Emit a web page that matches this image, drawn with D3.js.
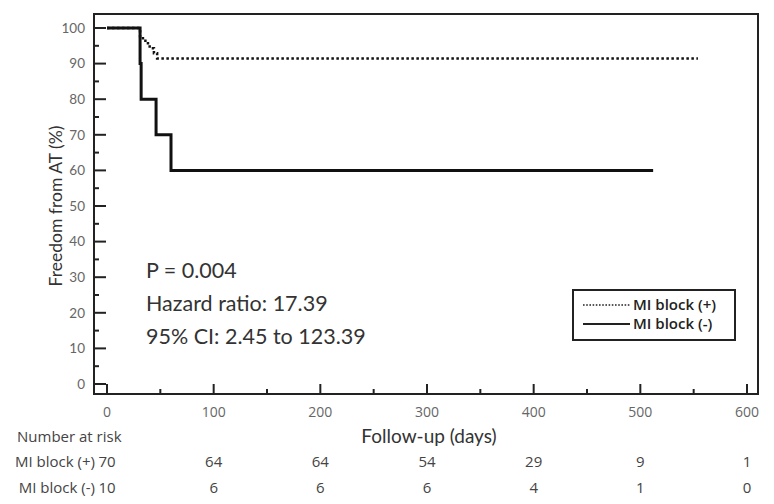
<!DOCTYPE html>
<html><head><meta charset="utf-8">
<script src="https://cdn.jsdelivr.net/npm/d3@7"></script>
<style>body{margin:0;background:#fff}svg{display:block}</style>
</head><body>
<svg id="c" width="774" height="504"></svg>
<script>
// Data
const timePlus = [0, 31, 36, 40, 44, 47, 554];
const survPlus = [100, 97.1, 95.7, 94.3, 92.9, 91.4, 91.4];
const timeMinus = [0, 31, 32, 46, 60, 512];
const survMinus = [100, 90, 80, 70, 60, 60];
const riskTimes = [0, 100, 200, 300, 400, 500, 600];
const riskPlus = [70, 64, 64, 54, 29, 9, 1];
const riskMinus = [10, 6, 6, 6, 4, 1, 0];
const yTicks = [0,10,20,30,40,50,60,70,80,90,100];
const xTicks = [0,100,200,300,400,500,600];
const statsText = ["P = 0.004", "Hazard ratio: 17.39", "95% CI: 2.45 to 123.39"];
const legendLabels = ["MI block (+)", "MI block (-)"];

const svg = d3.select("#c");
const FONT = "Lato, 'Open Sans', sans-serif";
const FONT2 = "'Open Sans', Lato, sans-serif";
const x = d3.scaleLinear().domain([0, 600]).range([107, 747]);
const y = d3.scaleLinear().domain([0, 100]).range([384, 28]);
const frame = {l: 94, t: 14, r: 758, b: 394};

// y ticks (inward)
const yMinor = d3.range(5, 100, 10);
svg.append("g").selectAll("line").data(yTicks).join("line")
  .attr("x1", frame.l).attr("x2", frame.l + 12).attr("y1", d => y(d)).attr("y2", d => y(d))
  .attr("stroke", "#222").attr("stroke-width", 2);
svg.append("g").selectAll("line").data(yMinor).join("line")
  .attr("x1", frame.l).attr("x2", frame.l + 5).attr("y1", d => y(d)).attr("y2", d => y(d))
  .attr("stroke", "#222").attr("stroke-width", 2);
svg.append("g").selectAll("text").data(yTicks).join("text")
  .attr("x", 85).attr("y", d => y(d)).attr("dy", "0.35em").attr("text-anchor", "end")
  .attr("font-family", FONT).attr("font-size", 13.5).attr("fill", "#666").text(d => d);

// x ticks (inward)
const xMinor = d3.range(50, 600, 100);
svg.append("g").selectAll("line").data(xTicks).join("line")
  .attr("x1", d => x(d)).attr("x2", d => x(d)).attr("y1", frame.b).attr("y2", frame.b - 10)
  .attr("stroke", "#222").attr("stroke-width", 2);
svg.append("g").selectAll("line").data(xMinor).join("line")
  .attr("x1", d => x(d)).attr("x2", d => x(d)).attr("y1", frame.b).attr("y2", frame.b - 5)
  .attr("stroke", "#222").attr("stroke-width", 2);
svg.append("g").selectAll("text").data(xTicks).join("text")
  .attr("x", d => x(d)).attr("y", 417).attr("text-anchor", "middle")
  .attr("font-family", FONT2).attr("font-size", 14).attr("fill", "#666").text(d => d);

// frame
svg.append("rect").attr("x", frame.l).attr("y", frame.t)
  .attr("width", frame.r - frame.l).attr("height", frame.b - frame.t)
  .attr("fill", "none").attr("stroke", "#222").attr("stroke-width", 2);

// curves
const line = d3.line().x(d => x(d[0])).y(d => y(d[1])).curve(d3.curveStepAfter);
svg.append("path").datum(timePlus.map((t, i) => [t, survPlus[i]]))
  .attr("d", line).attr("fill", "none").attr("stroke", "#111")
  .attr("stroke-width", 2.5).attr("stroke-dasharray", "2.5,2.5");
svg.append("path").datum(timeMinus.map((t, i) => [t, survMinus[i]]))
  .attr("d", line).attr("fill", "none").attr("stroke", "#111").attr("stroke-width", 3);

// axis titles
svg.append("text").attr("transform", "translate(62,206) rotate(-90)")
  .attr("text-anchor", "middle").attr("font-family", FONT).attr("font-size", 17.5)
  .attr("fill", "#333").text("Freedom from AT (%)");
svg.append("text").attr("x", 429).attr("y", 443).attr("text-anchor", "middle")
  .attr("font-family", FONT).attr("font-size", 19).attr("fill", "#333").text("Follow-up (days)");

// stats
svg.append("g").selectAll("text").data(statsText).join("text")
  .attr("x", 146).attr("y", (d, i) => 278 + i * 33)
  .attr("font-family", FONT).attr("font-size", 21.5).attr("fill", "#333").text(d => d);

// legend
svg.append("rect").attr("x", 573).attr("y", 290).attr("width", 162).attr("height", 50)
  .attr("fill", "none").attr("stroke", "#222").attr("stroke-width", 2);
const lg = svg.append("g");
legendLabels.forEach((lab, i) => {
  const yy = 305 + i * 19;
  lg.append("line").attr("x1", 583).attr("x2", 630).attr("y1", yy).attr("y2", yy)
    .attr("stroke", "#222").attr("stroke-width", i === 0 ? 1.6 : 2.2)
    .attr("stroke-dasharray", i === 0 ? "1.6,1.6" : null);
  lg.append("text").attr("x", 633).attr("y", yy).attr("dy", "0.35em")
    .attr("font-family", FONT2).attr("font-size", 15).attr("font-weight", 600)
    .attr("fill", "#222").text(lab);
});

// number at risk
svg.append("text").attr("x", 17).attr("y", 442).attr("font-family", FONT2)
  .attr("font-size", 15).attr("fill", "#444").text("Number at risk");
[["MI block (+)", riskPlus, 467], ["MI block (-)", riskMinus, 493]].forEach(([lab, vals, yy]) => {
  svg.append("text").attr("x", 95).attr("y", yy).attr("text-anchor", "end")
    .attr("font-family", FONT2).attr("font-size", 15).attr("fill", "#444").text(lab);
  svg.append("g").selectAll("text").data(vals).join("text")
    .attr("x", (d, i) => x(riskTimes[i])).attr("y", yy).attr("text-anchor", "middle")
    .attr("font-family", FONT2).attr("font-size", 15).attr("fill", "#444").text(d => d);
});
</script>
</body></html>
